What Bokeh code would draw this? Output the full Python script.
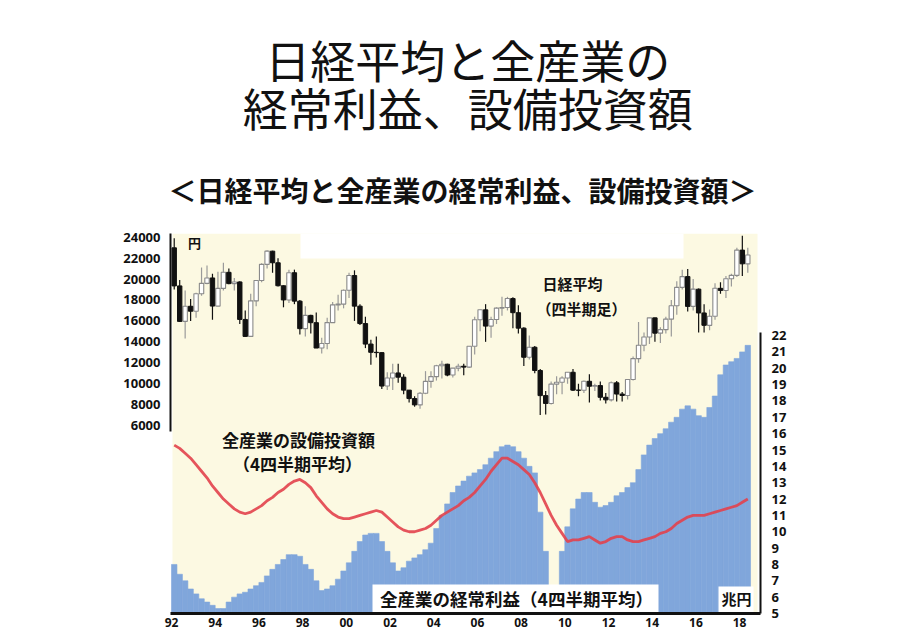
from bokeh.plotting import figure
from bokeh.layouts import column
from bokeh.models import Range1d, LinearAxis, FixedTicker, Label, ColumnDataSource
from bokeh.embed import file_html
from bokeh.resources import INLINE

# ---------------- data: quarterly, 1992Q1 .. 2018Q2 ----------------
first_year = 1992

# 日経平均 (四半期足), 円
nikkei_first_open = 22984
nikkei_close = [
    19346, 15952, 17399, 16925,   # 1992
    18591, 19590, 20106, 17417,   # 1993
    19112, 20644, 19564, 19723,   # 1994
    16140, 14517, 17913, 19868,   # 1995
    21407, 22667, 21556, 19361,   # 1996
    18003, 20605, 17888, 15259,   # 1997
    16527, 15830, 13406, 13842,   # 1998
    15837, 17530, 17605, 18934,   # 1999
    20337, 17411, 15747, 13786,   # 2000
    12999, 12969, 9775, 10543,    # 2001
    11025, 10622, 9383, 8579,     # 2002
    7973, 9083, 10219, 10677,     # 2003
    11715, 11859, 10824, 11489,   # 2004
    11669, 11584, 13574, 16111,   # 2005
    17060, 15505, 16128, 17226,   # 2006
    17288, 18138, 16786, 15308,   # 2007
    12526, 13481, 11260, 8860,    # 2008
    8110, 9958, 10133, 10546,     # 2009
    11090, 9383, 9369, 10229,     # 2010
    9755, 9816, 8700, 8455,       # 2011
    10084, 9007, 8870, 10395,     # 2012
    12398, 13677, 14456, 16291,   # 2013
    14828, 15162, 16174, 17451,   # 2014
    19207, 20236, 17388, 19034,   # 2015
    16759, 15576, 16450, 19114,   # 2016
    18909, 20033, 20356, 22765,   # 2017
    21454, 22305,                 # 2018
]
nikkei_high = [
    23900, 19900, 18900, 18100,
    18700, 21100, 21300, 20500,
    20700, 21552, 21000, 20100,
    19800, 17000, 18600, 19900,
    21500, 22750, 22700, 22000,
    19400, 20900, 20900, 18000,
    17400, 16600, 16800, 14400,
    16300, 17800, 18500, 19000,
    20600, 20833, 17600, 16400,
    14200, 14500, 13000, 11100,
    11900, 11900, 10900, 9400,
    8800, 9200, 11200, 11200,
    11800, 12200, 11900, 11500,
    11900, 11900, 13600, 16400,
    17100, 17600, 16400, 17300,
    18300, 18300, 18262, 17500,
    15400, 14600, 13600, 11400,
    9300, 10200, 10700, 10700,
    11100, 11400, 10000, 10300,
    10900, 10000, 10200, 9100,
    10200, 10250, 9200, 10400,
    12600, 15900, 14900, 16300,
    16300, 15400, 16400, 18000,
    19800, 20900, 20950, 20000,
    19100, 17600, 17100, 19600,
    19700, 20300, 20500, 23000,
    24129, 23000,
]
nikkei_low = [
    19000, 15900, 14309, 16000,
    16300, 18400, 19500, 16100,
    17400, 18900, 19500, 18900,
    15700, 14485, 14500, 17400,
    19700, 21000, 20600, 19300,
    17300, 17700, 17600, 14700,
    14500, 14800, 13400, 12879,
    13300, 15800, 17000, 17200,
    18200, 16000, 15600, 13400,
    11800, 12500, 9500, 9400,
    9400, 10100, 9000, 8200,
    7800, 7607, 9000, 9600,
    10300, 10500, 10700, 10600,
    11200, 10800, 11500, 12800,
    15000, 14000, 14400, 15700,
    16500, 17000, 15300, 14800,
    11700, 12300, 11000, 6995,
    7054, 8000, 9000, 9000,
    10000, 9300, 8800, 9100,
    8200, 9300, 8400, 8100,
    8300, 8300, 8300, 8500,
    10300, 12000, 13100, 13800,
    14000, 13900, 14800, 14500,
    16600, 19000, 16900, 17000,
    14900, 14900, 15100, 16100,
    18600, 18200, 19300, 20200,
    20300, 20600,
]

# 全産業の経常利益（4四半期平均）, 兆円
profit_4q_avg = [
    8.0, 7.4, 7.0, 6.5,
    6.2, 5.9, 5.7, 5.5,
    5.3, 5.3, 5.7, 6.0,
    6.2, 6.3, 6.5, 6.7,
    6.9, 7.3, 7.7, 8.0,
    8.3, 8.6, 8.6, 8.5,
    8.0, 7.7, 7.0, 6.4,
    6.5, 6.7, 7.1, 7.6,
    8.1, 8.8, 9.4, 9.8,
    9.9, 9.9, 9.4, 8.8,
    8.1, 7.6, 7.8, 8.2,
    8.4, 8.6, 8.9, 9.3,
    10.2, 11.0, 11.7, 12.4,
    12.8, 13.1, 13.4, 13.6,
    13.8, 14.1, 14.5, 14.9,
    15.2, 15.3, 15.2, 14.9,
    14.5, 14.0, 13.6, 11.2,
    8.8, 6.2, 6.2, 8.8,
    10.3, 11.4, 12.0, 12.4,
    12.4, 11.8, 11.5, 11.6,
    11.8, 12.2, 12.4, 12.7,
    13.0, 13.8, 14.7, 15.3,
    15.7, 16.0, 16.3, 16.7,
    17.0, 17.5, 17.7, 17.5,
    17.1, 17.0, 17.6, 18.3,
    19.6, 20.2, 20.4, 20.6,
    21.0, 21.4,
]

# 全産業の設備投資額（4四半期平均）, 兆円
capex_4q_avg = [
    15.3, 15.1, 14.8, 14.5,
    14.1, 13.7, 13.3, 12.8,
    12.4, 12.0, 11.7, 11.4,
    11.2, 11.1, 11.2, 11.4,
    11.6, 11.9, 12.1, 12.4,
    12.6, 12.9, 13.1, 13.2,
    13.0, 12.7, 12.2, 11.8,
    11.4, 11.1, 10.9, 10.8,
    10.8, 10.9, 11.0, 11.1,
    11.2, 11.3, 11.2, 10.9,
    10.6, 10.3, 10.1, 10.0,
    10.0, 10.1, 10.2, 10.4,
    10.7, 11.0, 11.2, 11.4,
    11.6, 11.9, 12.1, 12.4,
    12.8, 13.2, 13.7, 14.1,
    14.5, 14.5, 14.3, 14.1,
    13.8, 13.5, 13.0, 12.4,
    11.7, 11.0, 10.4, 9.9,
    9.4, 9.5, 9.5, 9.6,
    9.7, 9.5, 9.3, 9.4,
    9.6, 9.7, 9.7, 9.5,
    9.4, 9.4, 9.5, 9.6,
    9.7, 9.9, 10.0, 10.2,
    10.5, 10.7, 10.9, 11.0,
    11.0, 11.0, 11.1, 11.2,
    11.3, 11.4, 11.5, 11.6,
    11.8, 12.0,
]

year_ticks = [1992, 1994, 1996, 1998, 2000, 2002, 2004, 2006, 2008, 2010, 2012, 2014, 2016, 2018]
year_tick_labels = ["92", "94", "96", "98", "00", "02", "04", "06", "08", "10", "12", "14", "16", "18"]
nikkei_ticks = [6000, 8000, 10000, 12000, 14000, 16000, 18000, 20000, 22000, 24000]
trillion_ticks = [5, 6, 7, 8, 9, 10, 11, 12, 13, 14, 15, 16, 17, 18, 19, 20, 21, 22]

# ---------------- derived series ----------------
n = len(nikkei_close)
quarter_mid = [first_year + (i + 0.5) / 4 for i in range(n)]
nikkei_open = [nikkei_first_open] + nikkei_close[:-1]

# ---------------- page geometry ----------------
W, H = 911, 633
HEAD_H = 222                                  # heading strip above the chart
FL, FR, FT, FB = 170, 760, 233, 613          # chart frame in page pixels
PX_PER_YEAR = 21.85
PX_PER_YEN = 0.010463
Y_TOP_TICK_PX = 236.7                         # where 24000 sits
PX_PER_TRILLION = 16.35

x_start = first_year - 1 / PX_PER_YEAR
x_end = x_start + (FR - FL) / PX_PER_YEAR
y_start = 24000 - (FB - Y_TOP_TICK_PX) / PX_PER_YEN
y_end = 24000 + (Y_TOP_TICK_PX - FT) / PX_PER_YEN
r_start = 5
r_end = 5 + (FB - FT) / PX_PER_TRILLION


def to_x(px):
    return x_start + (px - FL) / PX_PER_YEAR


def to_y(py):
    return y_start + (FB - py) / PX_PER_YEN


CREAM = "#FCF9E2"
BLUE = "#80A6DB"
RED = "#E2414D"
INK = "#111111"
JP = "Noto Sans CJK JP"

# ---------------- heading strip ----------------
head = figure(width=W, height=HEAD_H, x_range=Range1d(0, W), y_range=Range1d(HEAD_H, 0),
              output_backend="svg", toolbar_location=None, x_axis_location=None,
              y_axis_location=None, min_border=0, outline_line_color=None,
              background_fill_color="white", border_fill_color="white")
head.grid.visible = False


def head_text(px, py, text, size, bold):
    head.add_layout(Label(x=px, y=py, text=text, text_font=JP, text_font_size=f"{size}px",
                          text_font_style="bold" if bold else "normal", text_align="center",
                          text_baseline="middle", text_color=INK))


head_text(459, 59, "日経平均と全産業の", 45, False)
head_text(459, 107, "経常利益、設備投資額", 45, False)
head_text(451, 189, "＜日経平均と全産業の経常利益、設備投資額＞", 28, True)

# ---------------- chart ----------------
p = figure(width=W, height=H - HEAD_H, x_range=Range1d(x_start, x_end),
           y_range=Range1d(y_start, y_end),
           output_backend="svg", toolbar_location=None,
           min_border_left=FL, min_border_right=W - FR, min_border_top=FT - HEAD_H,
           min_border_bottom=H - FB,
           background_fill_color="white", border_fill_color="white", outline_line_color=None)
p.extra_y_ranges = {"right": Range1d(r_start, r_end)}
p.grid.visible = False

# pale panel behind the chart, with a notch at top centre
p.quad(left=to_x(172), right=to_x(757), top=to_y(FT), bottom=to_y(FB),
       fill_color=CREAM, line_color=None)
p.quad(left=to_x(300), right=to_x(683), top=to_y(FT), bottom=to_y(258),
       fill_color="white", line_color=None)

# ordinary profit, stepped quarterly area
p.vbar(x=quarter_mid, width=0.25, top=profit_4q_avg, bottom=r_start, y_range_name="right",
       fill_color=BLUE, line_color=BLUE, line_width=0.6)

# capital expenditure line
p.line(x=quarter_mid, y=capex_4q_avg, y_range_name="right", line_color=RED, line_width=2.8,
       line_alpha=0.9)

# quarterly candlesticks
up = [i for i in range(n) if nikkei_close[i] >= nikkei_open[i]]
dn = [i for i in range(n) if nikkei_close[i] < nikkei_open[i]]


def candle_source(idx):
    return ColumnDataSource(dict(
        x=[quarter_mid[i] for i in idx],
        hi=[nikkei_high[i] for i in idx],
        lo=[nikkei_low[i] for i in idx],
        top=[max(nikkei_open[i], nikkei_close[i]) for i in idx],
        bot=[min(nikkei_open[i], nikkei_close[i]) for i in idx],
    ))


src_up = candle_source(up)
src_dn = candle_source(dn)
p.segment(x0="x", y0="hi", x1="x", y1="lo", source=src_up, line_color="#9a9a9a", line_width=1.2)
p.vbar(x="x", width=0.2, top="top", bottom="bot", source=src_up,
       fill_color="white", line_color="#8a8a8a", line_width=1.1)
p.segment(x0="x", y0="hi", x1="x", y1="lo", source=src_dn, line_color=INK, line_width=1.2)
p.vbar(x="x", width=0.2, top="top", bottom="bot", source=src_dn,
       fill_color=INK, line_color=INK, line_width=1)

# white plates behind the lower captions
p.quad(left=to_x(372), right=to_x(658), top=to_y(584), bottom=to_y(612),
       fill_color="white", line_color=None)
p.quad(left=to_x(718), right=to_x(753), top=to_y(586), bottom=to_y(612),
       fill_color="white", line_color=None)


# ---------------- axes ----------------
def style_axis(ax, standoff):
    ax.axis_line_color = INK
    ax.axis_line_width = 2
    ax.major_tick_out = 0
    ax.major_tick_in = 0
    ax.minor_tick_line_color = None
    ax.major_label_text_font = "Noto Sans"
    ax.major_label_text_font_style = "bold"
    ax.major_label_text_font_size = "13px"
    ax.major_label_text_color = INK
    ax.major_label_standoff = standoff


xa = p.xaxis[0]
xa.ticker = FixedTicker(ticks=year_ticks)
xa.major_label_overrides = {t: s for t, s in zip(year_ticks, year_tick_labels)}
style_axis(xa, 4)
xa.axis_line_width = 3
xa.major_label_text_font_size = "12px"

ya = p.yaxis[0]
ya.ticker = FixedTicker(ticks=nikkei_ticks)
ya.bounds = (5400, 24350)
style_axis(ya, 10)

ra = LinearAxis(y_range_name="right", ticker=FixedTicker(ticks=trillion_ticks), bounds=(5, 22.2))
style_axis(ra, 11)
p.add_layout(ra, "right")


# ---------------- captions inside the chart ----------------
def add_text(px, py, text, size, bold=True):
    p.add_layout(Label(x=to_x(px), y=to_y(py), text=text, text_font=JP,
                       text_font_size=f"{size}px", text_font_style="bold" if bold else "normal",
                       text_align="center", text_baseline="middle", text_color=INK))


add_text(194, 242, "円", 13)
add_text(572, 283, "日経平均", 15)
add_text(581, 308, "（四半期足）", 15)
add_text(298, 439, "全産業の設備投資額", 17)
add_text(297, 463, "（4四半期平均）", 17)
add_text(516, 598, "全産業の経常利益（4四半期平均）", 17.5)
add_text(736, 598, "兆円", 15)

page = column(head, p, spacing=0)
open("out.html", "w").write(file_html(page, INLINE))
